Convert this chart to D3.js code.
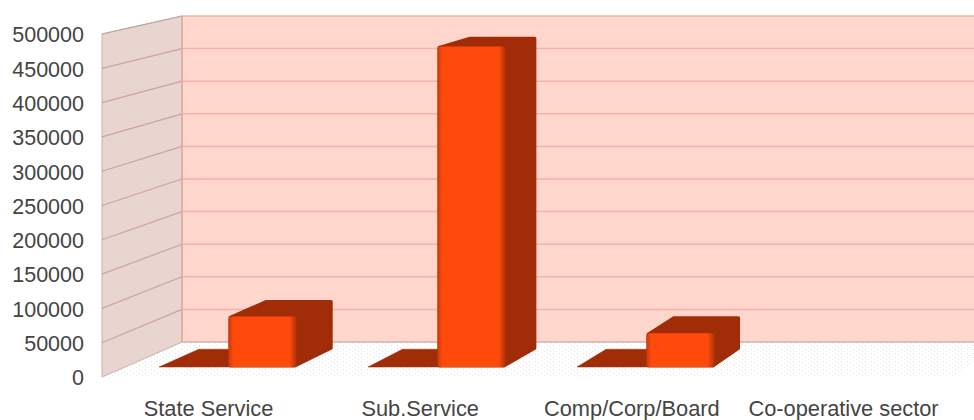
<!DOCTYPE html>
<html><head><meta charset="utf-8">
<script src="https://cdn.jsdelivr.net/npm/d3@7"></script>
<style>html,body{margin:0;padding:0;background:#fff}svg{display:block}</style>
</head><body><svg id="c" width="974" height="420"></svg>
<script>
const categories = ["State Service","Sub.Service","Comp/Corp/Board","Co-operative sector"];
const seriesNames = ["a","b"];
const seriesA = [0,0,0,null];
const seriesB = [75000,475000,50000,null];
const tickValues = [0,50000,100000,150000,200000,250000,300000,350000,400000,450000,500000];

const svg = d3.select("#c");
const maxV = 500000;
const yFront = d3.scaleLinear().domain([0,maxV]).range([377,34]);
const yBack  = d3.scaleLinear().domain([0,maxV]).range([342,16]);
const yBar   = d3.scaleLinear().domain([0,maxV]).range([367,29.5]);
const wallX = [102,182];
const vp = [1716,-329], depth = 0.0255;
const back = (x,y)=>[x+(vp[0]-x)*depth, y+(vp[1]-y)*depth];

const x0 = d3.scaleBand().domain(categories).range([159,159+3*209+138]).paddingInner(71/209).paddingOuter(0);
const x1 = d3.scaleBand().domain(seriesNames).range([0,x0.bandwidth()]);
const xLabel = d3.scalePoint().domain(categories).range([208,843]);

const defs = svg.append("defs");
const pat = defs.append("pattern").attr("id","dots").attr("width",6).attr("height",4).attr("patternUnits","userSpaceOnUse");
pat.append("rect").attr("width",6).attr("height",4).attr("fill","#fff");
pat.append("rect").attr("x",1).attr("y",1).attr("width",1).attr("height",1).attr("fill","#e2e2e2");
pat.append("rect").attr("x",4).attr("y",3).attr("width",1).attr("height",1).attr("fill","#e9e9e9");
const grad = defs.append("linearGradient").attr("id","face").attr("x1",0).attr("x2",1).attr("y1",0).attr("y2",0);
[[0,"#c53a0c"],[0.07,"#ff4a0c"],[0.9,"#ff4a0c"],[1,"#ad320a"]].forEach(s=>grad.append("stop").attr("offset",s[0]).attr("stop-color",s[1]));

const pts = p=>p.map(d=>d.join(",")).join(" ");

// floor
svg.append("polygon").attr("fill","url(#dots)")
  .attr("points",pts([[wallX[0],yFront(0)],[wallX[1],yBack(0)],[1000,yBack(0)],[953,yFront(0)]]));
// back wall
svg.append("rect").attr("x",wallX[1]).attr("y",yBack(maxV)).attr("width",974-wallX[1]).attr("height",yBack(0)-yBack(maxV)).attr("fill","#ffd6cc");
// side wall
svg.append("polygon").attr("fill","#e8d5cf").attr("stroke","#d3aca0").attr("stroke-width",1)
  .attr("points",pts([[wallX[0],yFront(0)],[wallX[1],yBack(0)],[wallX[1],yBack(maxV)],[wallX[0],yFront(maxV)]]));
// grid
svg.append("g").selectAll("line.b").data(tickValues).join("line")
  .attr("x1",wallX[1]).attr("x2",974).attr("y1",d=>yBack(d)).attr("y2",d=>yBack(d))
  .attr("stroke",d=>d===0?"#cdb5ac":"#f1b3a2").attr("stroke-width",1.5);
svg.append("g").selectAll("line").data(tickValues).join("line")
  .attr("x1",wallX[0]).attr("x2",wallX[1]).attr("y1",d=>yFront(d)).attr("y2",d=>yBack(d))
  .attr("stroke",d=>d===maxV?"#b8a8a2":d===0?"#cfc4c0":"#cda498").attr("stroke-width",1.2);
svg.append("line").attr("x1",wallX[1]).attr("x2",wallX[1]).attr("y1",yBack(0)).attr("y2",yBack(maxV)).attr("stroke","#dcaa9c").attr("stroke-width",1.5);

// bars
const dark = "#a02c08";
function drawBar(g,x,w,v){
  const yb = yBar(0), yt = yBar(v);
  const tl=[x,yt],tr=[x+w,yt],br=[x+w,yb],bl=[x,yb];
  const [btl,btr,bbr,bbl]=[tl,tr,br,bl].map(p=>back(p[0],p[1]));
  g.append("polygon").attr("fill",dark).attr("stroke",dark).attr("stroke-width",v===0?0.5:3).attr("stroke-linejoin","round")
    .attr("points",pts(v===0?[bl,bbl,bbr,br]:[[bl[0]+1.5,bl[1]-1],[tl[0]+1.5,tl[1]+1],[btl[0],btl[1]+1.5],[btr[0]-1.5,btr[1]+1.5],[bbr[0]-1.5,bbr[1]-1],[br[0]-1.5,br[1]-1]]));
  if(v>0) g.append("rect").attr("x",x).attr("y",yt).attr("width",w).attr("height",yb-yt).attr("rx",3).attr("fill","url(#face)");
}
const barsG = svg.append("g");
[["a",seriesA],["b",seriesB]].forEach(([s,vals])=>{
  vals.forEach((v,i)=>{
    if(v===null) return;
    drawBar(barsG,x0(categories[i])+x1(s)+(s==="b"?0.5:0),x1.bandwidth()-(s==="b"?1:0),v);
  });
});

// axes
const txt="#444";
const font='"Liberation Sans",Arial,sans-serif';
const ay = svg.append("g").attr("transform",`translate(${wallX[0]-5},1)`)
  .call(d3.axisLeft(yFront).tickValues(tickValues).tickFormat(d3.format("d")).tickSize(0).tickPadding(13));
ay.select(".domain").remove();
ay.selectAll("text").attr("fill",txt).style("font",`21.5px ${font}`);
const ax = svg.append("g").attr("transform","translate(0,401)")
  .call(d3.axisBottom(xLabel).tickSize(0).tickPadding(0));
ax.select(".domain").remove();
ax.selectAll("text").attr("fill",txt).style("font",`21.8px ${font}`);
</script></body></html>
